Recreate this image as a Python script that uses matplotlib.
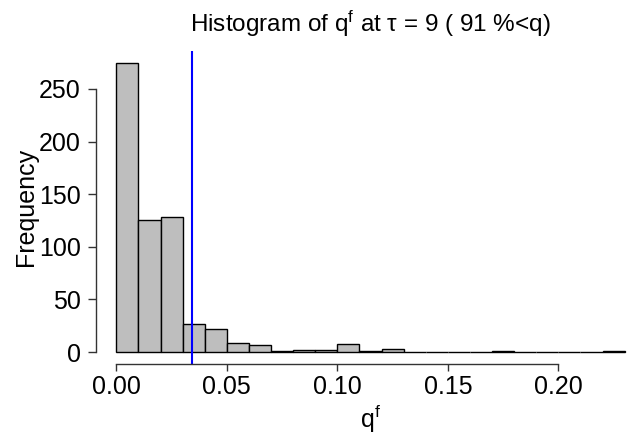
import matplotlib
matplotlib.use('Agg')
import matplotlib.pyplot as plt

plt.rcParams['font.family'] = ['Liberation Sans', 'DejaVu Sans']
plt.rcParams['mathtext.fontset'] = 'custom'
plt.rcParams['mathtext.rm'] = 'Liberation Sans'

# histogram breaks and counts
breaks = [0.00, 0.01, 0.02, 0.03, 0.04, 0.05, 0.06, 0.07, 0.08, 0.09, 0.10, 0.11,
          0.12, 0.13, 0.14, 0.15, 0.16, 0.17, 0.18, 0.19, 0.20, 0.21, 0.22, 0.23]
counts = [275, 125, 128, 27, 22, 9, 7, 1, 2, 2, 8, 1,
          3, 0, 0, 0, 0, 1, 0, 0, 0, 0, 1]
q_threshold = 0.0344
xticks = [0.00, 0.05, 0.10, 0.15, 0.20]
yticks = [0, 50, 100, 150, 200, 250]

W, H = 634, 441
fs = 18
fig = plt.figure(figsize=(W / 100, H / 100), dpi=100)
ax = fig.add_axes([96 / W, 1 - 363.6 / H, 549 / W, (363.6 - 51) / H])

ax.bar(breaks[:-1], counts, width=0.01, align='edge',
       color='#bebebe', edgecolor='black', linewidth=1.0)
ax.axvline(q_threshold, color='#0000ff', linewidth=1.5)

ax.set_xlim(-0.0092, 0.2392)
ax.set_ylim(-11, 286)

for s in ['top', 'right']:
    ax.spines[s].set_visible(False)
ax.spines['left'].set_bounds(0, 250)
ax.spines['bottom'].set_bounds(0, 0.20)
for s in ['left', 'bottom']:
    ax.spines[s].set_color('#333333')
    ax.spines[s].set_linewidth(1.0)

ax.set_xticks(xticks)
ax.set_xticklabels(['%.2f' % v for v in xticks])
ax.set_yticks(yticks)
ax.tick_params(axis='x', length=5.2, width=1.0, pad=3.0, labelsize=fs, color='#333333')
ax.tick_params(axis='y', length=5.8, width=1.0, pad=5.0, labelsize=fs, color='#333333')

ax.set_title(r'Histogram of $\mathregular{q^f}$ at τ = 9 ( 91 %<q)', fontsize=fs - 0.5, pad=13.5)
fig.text(370.5 / W, 1 - 428 / H, r'$\mathregular{q^f}$', fontsize=fs, ha='center', va='baseline')
fig.text(26 / W, 1 - 207 / H, 'Frequency', fontsize=fs, rotation=90, ha='center', va='center')

fig.savefig('out.png', dpi=100)
